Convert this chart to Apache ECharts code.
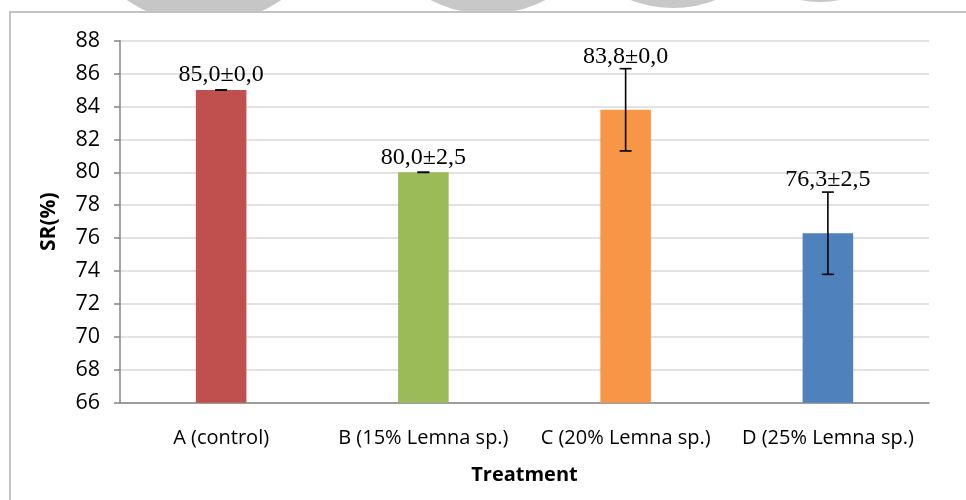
<!DOCTYPE html>
<html>
<head>
<meta charset="utf-8">
<script src="https://cdn.jsdelivr.net/npm/echarts@6/dist/echarts.min.js"></script>
<style>
html,body{margin:0;padding:0;background:#fff;}
#chart{width:966px;height:500px;}
</style>
</head>
<body>
<div id="chart"></div>
<script>
const categories = ['A (control)', 'B (15% Lemna sp.)', 'C (20% Lemna sp.)', 'D (25% Lemna sp.)'];
const srValues = [85.0, 80.0, 83.8, 76.3];
const srErrors = [0, 0, 2.5, 2.5];
const srLabels = ['85,0±0,0', '80,0±2,5', '83,8±0,0', '76,3±2,5'];
const barColors = ['#C0504D', '#9BBB59', '#F79646', '#4F81BD'];
const yTicks = { min: 66, max: 88, interval: 2 };

const chart = echarts.init(document.getElementById('chart'), null, { renderer: 'canvas' });

const sansFont = '"Open Sans", "Noto Sans", sans-serif';

const option = {
  animation: false,
  backgroundColor: '#ffffff',
  graphic: [
    { type: 'circle', z: -10, shape: { cx: 204, cy: -112, r: 122 }, style: { fill: '#e2e2e2', stroke: '#c6c6c6', lineWidth: 28 } },
    { type: 'circle', z: -10, shape: { cx: 488, cy: -111, r: 125 }, style: { fill: '#c8c8c8' } },
    { type: 'circle', z: -10, shape: { cx: 673, cy: -110, r: 118 }, style: { fill: '#c8c8c8' } },
    { type: 'circle', z: -10, shape: { cx: 820, cy: -100, r: 102 }, style: { fill: '#c8c8c8' } },
    { type: 'rect', z: -9, shape: { x: 10, y: 12, width: 1000, height: 600 }, style: { fill: '#ffffff', stroke: '#c3c3c3', lineWidth: 2 } }
  ],
  grid: { left: 120, right: 37, top: 40.7, bottom: 97.3, containLabel: false },
  xAxis: {
    type: 'category',
    data: categories,
    boundaryGap: true,
    name: 'Treatment',
    nameLocation: 'middle',
    nameGap: 63,
    nameTextStyle: { fontFamily: sansFont, fontWeight: 'bold', fontSize: 20, color: '#000' },
    axisLine: { show: true, lineStyle: { color: '#868686', width: 1.5 } },
    axisTick: { show: false },
    axisLabel: { fontFamily: sansFont, fontSize: 20, color: '#000', margin: 26, interval: 0 },
    splitLine: { show: false }
  },
  yAxis: {
    type: 'value',
    min: yTicks.min,
    max: yTicks.max,
    interval: yTicks.interval,
    name: 'SR(%)',
    nameLocation: 'middle',
    nameGap: 60,
    nameRotate: 90,
    nameTextStyle: { fontFamily: sansFont, fontWeight: 'bold', fontSize: 21, color: '#000' },
    axisLine: { show: true, lineStyle: { color: '#868686', width: 1.5 } },
    axisTick: { show: true, inside: false, length: 6, lineStyle: { color: '#868686', width: 1.5 } },
    axisLabel: { fontFamily: sansFont, fontSize: 21.5, color: '#000', margin: 20 },
    splitLine: { show: true, lineStyle: { color: '#d9d9d9', width: 1.5 } }
  },
  series: [
    {
      type: 'bar',
      barWidth: '25%',
      data: srValues.map((v, i) => ({ value: v, itemStyle: { color: barColors[i] } })),
      z: 2
    },
    {
      type: 'custom',
      z: 5,
      data: srValues.map((v, i) => [i, v, srErrors[i]]),
      renderItem: function (params, api) {
        const xi = api.value(0), v = api.value(1), e = api.value(2);
        const top = api.coord([xi, v + e]);
        const bot = api.coord([xi, v - e]);
        const capHalf = 6;
        const lineStyle = { stroke: '#000', lineWidth: 1.6 };
        const gap = e > 0 ? 0 : 3;
        return {
          type: 'group',
          children: [
            { type: 'line', shape: { x1: top[0], y1: top[1], x2: bot[0], y2: bot[1] }, style: lineStyle },
            { type: 'line', shape: { x1: top[0] - capHalf, y1: top[1], x2: top[0] + capHalf, y2: top[1] }, style: lineStyle },
            { type: 'line', shape: { x1: bot[0] - capHalf, y1: bot[1], x2: bot[0] + capHalf, y2: bot[1] }, style: lineStyle },
            {
              type: 'text',
              style: {
                text: srLabels[params.dataIndex],
                x: top[0],
                y: top[1] - gap,
                align: 'center',
                verticalAlign: 'bottom',
                fontFamily: '"Liberation Serif", "Times New Roman", serif',
                fontSize: 24,
                fill: '#000'
              }
            }
          ]
        };
      }
    }
  ]
};

chart.setOption(option);
</script>
</body>
</html>
